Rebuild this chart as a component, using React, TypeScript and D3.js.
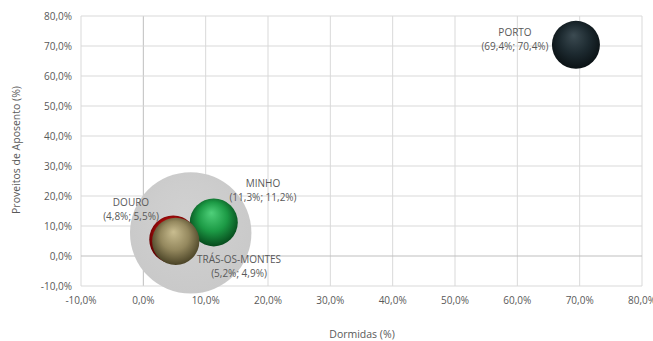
import React from "react";
import * as d3 from "d3";

const names = ["Norte", "PORTO", "MINHO", "DOURO", "TRÁS-OS-MONTES"];
const dormidas = [7.6, 69.4, 11.3, 4.8, 5.2];
const proveitos = [7.7, 70.4, 11.2, 5.5, 4.9];
const sizes = [6.4, 1.0, 1.0, 1.0, 0.97];
const showLabel = [false, true, true, true, true];
const xTicks = [-10, 0, 10, 20, 30, 40, 50, 60, 70, 80];
const yTicks = [-10, 0, 10, 20, 30, 40, 50, 60, 70, 80];

const W = 653;
const H = 341;
const fmt = (v: number) => v.toFixed(1).replace(".", ",") + "%";

const grads = [
  { id: "g0", stops: ["#d0d0d0", "#cdcdcd", "#c9c9c9"], flat: true },
  { id: "g1", stops: ["#3c4b52", "#1d2a30", "#0a1114"] },
  { id: "g2", stops: ["#4fd07a", "#1c9a45", "#064a1c"] },
  { id: "g3", stops: ["#e04040", "#b00d0d", "#5a0000"] },
  { id: "g4", stops: ["#c9bd90", "#94885e", "#4a4326"] },
];

export default function App() {
  const x = d3.scaleLinear().domain([-10, 80]).range([81, 642]);
  const y = d3.scaleLinear().domain([-10, 80]).range([286, 16]);
  const r = d3.scaleSqrt().domain([0, 1]).range([0, 24]);
  const font = "'Open Sans', 'Noto Sans', sans-serif";
  const txt = "#595959";

  const labelPos: Record<string, [number, number]> = {
    PORTO: [515, 33],
    MINHO: [263, 184],
    DOURO: [131, 203],
    "TRÁS-OS-MONTES": [239, 260],
  };

  return (
    <svg
      width={W}
      height={H}
      style={{ position: "absolute", left: 0, top: 0, background: "#fff" }}
      fontFamily={font}
    >
      <defs>
        {grads.map((g) => (
          <radialGradient key={g.id} id={g.id} cx="50%" cy="45%" r="55%" fx="45%" fy="30%">
            <stop offset="0%" stopColor={g.stops[0]} />
            <stop offset="55%" stopColor={g.stops[1]} />
            <stop offset="100%" stopColor={g.stops[2]} />
          </radialGradient>
        ))}
      </defs>
      {/* gridlines */}
      {xTicks.map((t) => (
        <line
          key={"gx" + t}
          x1={x(t)}
          x2={x(t)}
          y1={y(-10)}
          y2={y(80)}
          stroke={t === 0 ? "#bfbfbf" : "#d9d9d9"}
          strokeWidth={1}
        />
      ))}
      {yTicks.map((t) => (
        <line
          key={"gy" + t}
          x1={x(-10)}
          x2={x(80)}
          y1={y(t)}
          y2={y(t)}
          stroke={t === 0 ? "#bfbfbf" : "#d9d9d9"}
          strokeWidth={1}
        />
      ))}
      {/* tick labels */}
      {xTicks.map((t) => (
        <text key={"tx" + t} x={x(t)} y={304} textAnchor="middle" fontSize={10} fill={txt}>
          {fmt(t)}
        </text>
      ))}
      {yTicks.map((t) => (
        <text key={"ty" + t} x={72} y={y(t) + 3.5} textAnchor="end" fontSize={10} fill={txt}>
          {fmt(t)}
        </text>
      ))}
      {/* axis titles */}
      <text x={362} y={338} textAnchor="middle" fontSize={10.5} fill={txt}>
        Dormidas (%)
      </text>
      <text
        transform={`translate(20,150) rotate(-90)`}
        textAnchor="middle"
        fontSize={10.5}
        fill={txt}
      >
        Proveitos de Aposento (%)
      </text>
      {/* bubbles */}
      {names.map((n, i) => (
        <circle
          key={"b" + n}
          cx={x(dormidas[i])}
          cy={y(proveitos[i])}
          r={r(sizes[i])}
          fill={`url(#${grads[i].id})`}
        />
      ))}
      {/* labels */}
      {names.map((n, i) =>
        showLabel[i] ? (
          <g key={"l" + n}>
            <text x={labelPos[n][0]} y={labelPos[n][1] + 3} textAnchor="middle" fontSize={10} fill={txt}>
              {n}
            </text>
            <text x={labelPos[n][0]} y={labelPos[n][1] + 17} textAnchor="middle" fontSize={10} fill={txt}>
              {`(${dormidas[i].toFixed(1).replace(".", ",")}%; ${proveitos[i].toFixed(1).replace(".", ",")}%)`}
            </text>
          </g>
        ) : null
      )}
    </svg>
  );
}
